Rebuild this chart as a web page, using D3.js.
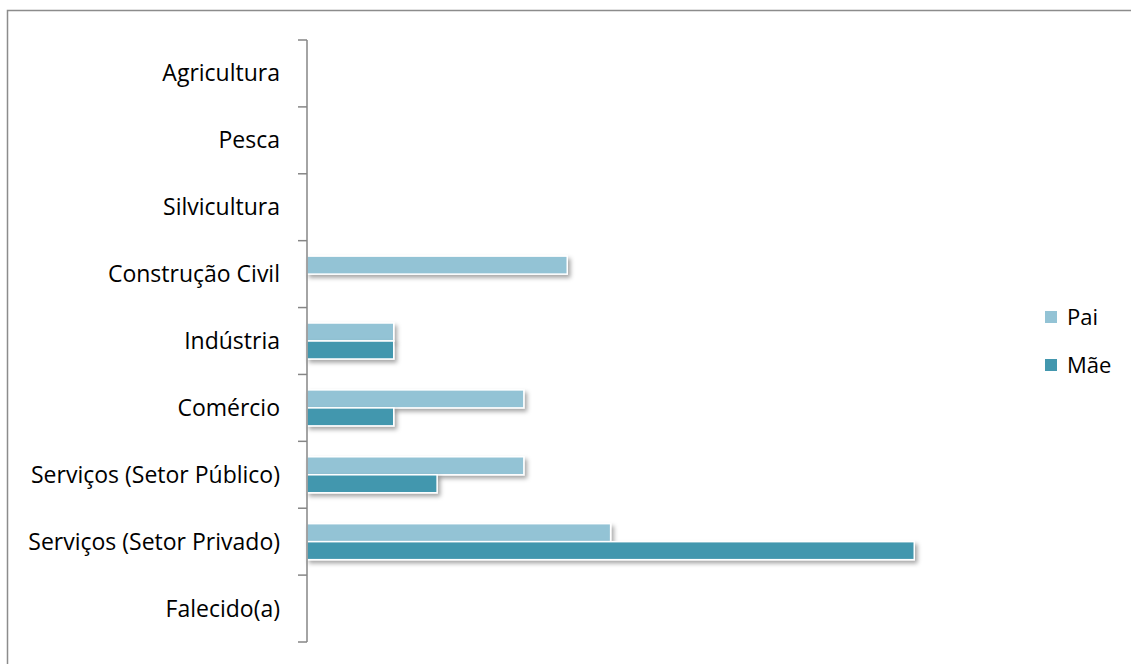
<!DOCTYPE html>
<html>
<head>
<meta charset="utf-8">
<script src="https://cdn.jsdelivr.net/npm/d3@7"></script>
<style>
  html, body { margin: 0; padding: 0; background: #fff; }
  svg { display: block; }
  text { font-family: "Open Sans", sans-serif; font-weight: 400; fill: #000; }
</style>
</head>
<body>
<svg id="chart" width="1131" height="664"></svg>
<script>
// Occupation of parents by sector
const categories = [
  "Agricultura",
  "Pesca",
  "Silvicultura",
  "Construção Civil",
  "Indústria",
  "Comércio",
  "Serviços (Setor Público)",
  "Serviços (Setor Privado)",
  "Falecido(a)"
];
const seriesNames = ["Pai", "Mãe"];
const paiValues = [0, 0, 0, 6, 2, 5, 5, 7, 0];
const maeValues = [0, 0, 0, 0, 2, 2, 3, 14, 0];
const seriesColors = ["#93c3d5", "#4397ae"];

const svg = d3.select("#chart");

// outer frame
svg.append("rect")
  .attr("x", 7.5).attr("y", 10.5)
  .attr("width", 1200).attr("height", 700)
  .attr("fill", "none")
  .attr("stroke", "#8c8c8c")
  .attr("stroke-width", 1.5);

const defs = svg.append("defs");
const f = defs.append("filter").attr("id", "shadow")
  .attr("x", "-10%").attr("y", "-50%").attr("width", "130%").attr("height", "250%");
f.append("feDropShadow")
  .attr("dx", 2.5).attr("dy", 3)
  .attr("stdDeviation", 2)
  .attr("flood-color", "#000")
  .attr("flood-opacity", 0.35);

const axisX = 307;
const plotTop = 40, plotBottom = 642;

const x = d3.scaleLinear().domain([0, 16]).range([axisX, axisX + 694]);
const y = d3.scaleBand().domain(categories).range([plotTop, plotBottom])
  .paddingInner(0.462).paddingOuter(0.231);
const ySub = d3.scaleBand().domain(seriesNames).range([0, y.bandwidth()]);

const rows = categories.map((c, i) => ({
  category: c,
  values: [
    { series: "Pai", value: paiValues[i], color: seriesColors[0] },
    { series: "Mãe", value: maeValues[i], color: seriesColors[1] }
  ]
}));

// bars
const g = svg.append("g");
rows.forEach(r => {
  r.values.filter(v => v.value > 0).forEach(v => {
    g.append("rect")
      .attr("x", x(0))
      .attr("y", y(r.category) + ySub(v.series))
      .attr("width", x(v.value) - x(0))
      .attr("height", ySub.bandwidth())
      .attr("fill", v.color)
      .attr("stroke", "#fff")
      .attr("stroke-width", 1.5)
      .attr("filter", "url(#shadow)");
  });
});

// category axis
const step = y.step();
const axisG = svg.append("g");
axisG.append("line")
  .attr("x1", axisX).attr("x2", axisX)
  .attr("y1", plotTop).attr("y2", plotBottom)
  .attr("stroke", "#868686").attr("stroke-width", 1.5);
d3.range(categories.length + 1).forEach(i => {
  const ty = plotTop + i * step;
  axisG.append("line")
    .attr("x1", axisX - 9).attr("x2", axisX)
    .attr("y1", ty).attr("y2", ty)
    .attr("stroke", "#868686").attr("stroke-width", 1.5);
});
axisG.selectAll("text.cat").data(categories).enter().append("text")
  .attr("class", "cat")
  .attr("x", 280)
  .attr("y", d => y(d) + y.bandwidth() / 2)
  .attr("dy", "0.35em")
  .attr("text-anchor", "end")
  .attr("font-size", 23)
  .text(d => d);

// legend
const legend = svg.append("g");
seriesNames.forEach((s, i) => {
  const ly = 317 + i * 48;
  legend.append("rect")
    .attr("x", 1045).attr("y", ly - 6)
    .attr("width", 12).attr("height", 12)
    .attr("fill", seriesColors[i]);
  legend.append("text")
    .attr("x", 1067).attr("y", ly)
    .attr("dy", "0.35em")
    .attr("font-size", 22)
    .text(s);
});
</script>
</body>
</html>
